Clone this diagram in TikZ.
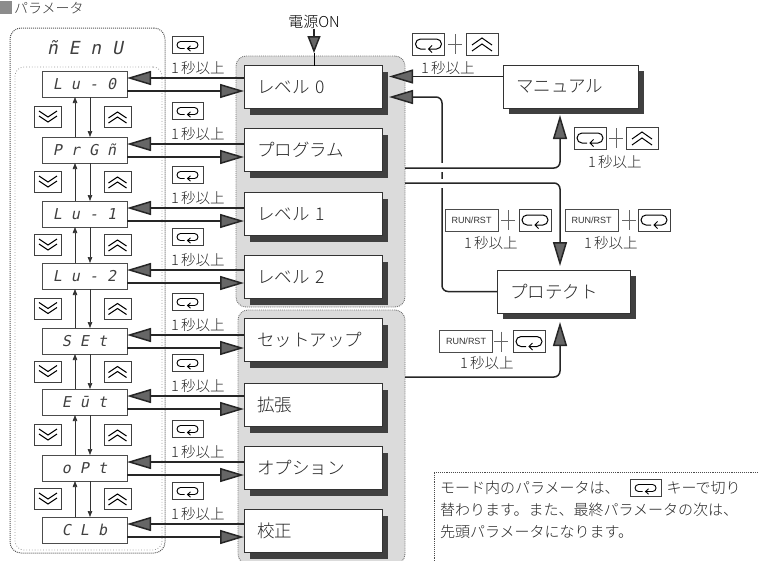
\documentclass[tikz,border=0pt]{standalone}
\usepackage{fontspec}
\IfFontExistsTF{Noto Sans CJK JP Light}{%
  \setmainfont{Noto Sans CJK JP Light}
  \newfontfamily\jp{Noto Sans CJK JP Light}
}{%
  \setmainfont{Noto Sans CJK JP}
  \newfontfamily\jp{Noto Sans CJK JP}
}
\newfontfamily\seg{DejaVu Sans Mono}[FakeSlant=0.2]
\newfontfamily\lsans{Liberation Sans}
\usetikzlibrary{arrows.meta,shadows,calc}
\begin{document}
\begin{tikzpicture}[x=1pt,y=-1pt,
  every node/.style={inner sep=0pt,outer sep=0pt},
  conn/.style={line width=1.5pt,draw=black!85},
  bigtip/.style={-{Triangle[length=24pt,width=14pt,fill=black!60]}},
  smalltip/.style={-{Triangle[length=6pt,width=4.5pt]}},
  thinarr/.style={line width=.7pt,draw=black!80},
  disp/.style={draw=black!70,line width=.8pt,minimum width=85pt,minimum height=26pt,
    font=\seg\fontsize{15}{15}\selectfont,text=black!75},
  mbox/.style={draw=black!80,line width=.8pt,fill=white,minimum height=43pt,
    inner xsep=13pt,align=left,font=\jp\fontsize{17.5}{17.5}\selectfont,text=black!85,
    drop shadow={shadow xshift=6pt,shadow yshift=-6pt,fill=black!75,opacity=1}},
  grp/.style={draw=black!55,densely dotted,line width=.9pt,fill=black!14,rounded corners=10pt},
  keyfr/.style={draw=black!75,line width=.7pt},
  small/.style={font=\jp\fontsize{14.5}{14.5}\selectfont,text=black!85},
  notetext/.style={font=\jp\fontsize{15}{15}\selectfont,text=black!85},
  retkey/.pic={
    \draw[keyfr,fill=white] (-15.5,-8.5) rectangle (15.5,8.5);
    \draw[line width=.9pt] (-3,3.5) -- (-7,3.5) arc[start angle=90,end angle=270,radius=3.5]
      -- (7,-3.5) arc[start angle=-90,end angle=90,radius=3.5] -- (0,3.5)
      (3,0.8) -- (0,3.5) -- (3,6.2);
  },
  retkeyL/.pic={
    \draw[keyfr,fill=white] (-16,-11) rectangle (16,11);
    \draw[line width=1pt] (-3,5) -- (-8,5) arc[start angle=90,end angle=270,radius=5]
      -- (8,-5) arc[start angle=-90,end angle=90,radius=5] -- (0,5)
      (3.5,1.5) -- (0,5) -- (3.5,8.5);
  },
  upkey/.pic={
    \draw[keyfr,fill=white] (-13.5,-10.5) rectangle (13.5,10.5);
    \draw[line width=1pt] (-9,1) -- (0,-5) -- (9,1) (-9,6) -- (0,0) -- (9,6);
  },
  downkey/.pic={
    \draw[keyfr,fill=white] (-13.5,-10.5) rectangle (13.5,10.5);
    \draw[line width=1pt] (-9,-6) -- (0,0) -- (9,-6) (-9,-1) -- (0,5) -- (9,-1);
  },
  upkeyL/.pic={
    \draw[keyfr,fill=white] (-16,-11) rectangle (16,11);
    \draw[line width=1pt] (-10,1) -- (0,-6) -- (10,1) (-10,7) -- (0,0) -- (10,7);
  },
  pluskey/.pic={
    \draw[black!60,line width=.8pt] (-7,0) -- (7,0) (0,-10) -- (0,10);
  },
  runkey/.pic={
    \node[draw=black!70,line width=.6pt,minimum width=53pt,minimum height=22pt,
      font=\lsans\fontsize{9}{9}\selectfont,text=black!80] {RUN/RST};
  },
]
\useasboundingbox (0,0) rectangle (758,560);

% title
\fill[black!45] (0,1) rectangle (12,14);
\node[anchor=west,font=\jp\fontsize{14}{14}\selectfont,text=black!80] (title) at (14,8) {パラメータ};

% menu frame
\node[draw=black!65,densely dotted,line width=1pt,rounded corners=11pt,
  minimum width=155pt,minimum height=525pt] (menu) at (87.5,290.5) {};
\node[draw=black!40,dotted,line width=.8pt,rounded corners=9pt,
  minimum width=147pt,minimum height=483pt] (menuin) at (88.5,308.5) {};
\node[font=\seg\fontsize{18}{18}\selectfont,text=black!75] (mtitle) at (85,48) {ñ E n U};

% groups
\node[grp,minimum width=169pt,minimum height=251pt] (g1) at (320.5,181.5) {};
\node[grp,minimum width=167pt,minimum height=254pt] (g2) at (321.5,437) {};

% rows
\foreach \i/\dc/\mc/\dt/\mt in {0/84/87/{L u - 0}/{レベル 0},
  1/150/150/{P r G ñ}/{プログラム},
  2/214/214/{L u - 1}/{レベル 1},
  3/276/277/{L u - 2}/{レベル 2},
  4/341/340/{S E t}/{セットアップ},
  5/402/405/{E ū t}/{拡張},
  6/468/468/{o P t}/{オプション},
  7/530/531/{C L b}/{校正}}{
  \node[mbox,minimum width=138pt,text width=112pt] (m\i) at (313,\mc) {\mt};
  \node[disp] (d\i) at (84.5,\dc) {\dt};
  \coordinate (u\i) at ($(d\i.east)+(0,-6)$);
  \coordinate (w\i) at ($(d\i.east)+(0,7)$);
  \draw[conn,bigtip] (m\i.west |- u\i) -- (u\i);
  \draw[conn,bigtip] (w\i) -- (m\i.west |- w\i);
  \pic at (187.5,\dc-39) {retkey};
  \node[small,anchor=west] (t\i) at (171,\dc-16) {1\,秒以上};
}

% up/down between displays
\foreach \i in {0,...,6}{
  \pgfmathtruncatemacro\j{\i+1}
  \coordinate (mid\i) at ($(d\i.south)!0.5!(d\j.north)$);
  \pic at ($(mid\i)+(-36.5,0)$) {downkey};
  \pic at ($(mid\i)+(33,0)$) {upkey};
  \draw[thinarr,smalltip] ($(d\j.north)+(-9.5,0)$) -- ($(d\i.south)+(-9.5,0)$);
  \draw[thinarr,smalltip] ($(d\i.south)+(5.5,0)$) -- ($(d\j.north)+(5.5,0)$);
}

% power on
\node[font=\jp\fontsize{15}{15}\selectfont] (pwr) at (314,22) {電源ON};
\coordinate (ptip) at (314,53);
\draw[conn,-{Triangle[length=17pt,width=13pt,fill=black!60]}] (pwr.south) -- (ptip);
\draw[line width=.8pt] (ptip) -- (m0.north -| ptip);

% right boxes
\node[mbox,minimum width=135pt,text width=109pt] (manual) at (570.5,86.5) {マニュアル};
\node[mbox,minimum width=133pt,text width=107pt] (protect) at (563.5,291.5) {プロテクト};

% connectors right side
\coordinate (a1) at ($(manual.west)+(0,-10)$);
\draw[conn,bigtip] (a1) -- ($(m0.east |- a1)+(7,0)$);
\coordinate (v2) at (442,97);
\draw[conn,bigtip,rounded corners=6pt] (protect.west) -| (v2) -- ($(m0.east |- v2)+(7,0)$);
\fill[white] (438,163) rectangle (446,172);
\fill[white] (438,179) rectangle (446,188);
\coordinate (h1) at (560,168);
\draw[conn,bigtip,rounded corners=6pt] (g1.east |- h1) -- (h1) -- ($(manual.south -| h1)+(0,7)$);
\coordinate (h2) at (560,183);
\draw[conn,bigtip,rounded corners=6pt] (g1.east |- h2) -- (h2) -- ($(protect.north -| h2)+(0,-4)$);
\coordinate (h3) at (560,377);
\draw[conn,bigtip,rounded corners=6pt] (g2.east |- h3) -- (h3) -- ($(protect.south -| h3)+(0,9)$);

% combo labels
\pic at (428.5,44) {retkeyL}; \pic at (455,44) {pluskey}; \pic at (482,44) {upkeyL};
\node[small,anchor=west] (la) at (421,68) {1\,秒以上};
\pic at (590,138) {retkeyL}; \pic at (616,138) {pluskey}; \pic at (642,138) {upkeyL};
\node[small,anchor=west] (lb) at (588,162) {1\,秒以上};
\pic at (471.5,220) {runkey}; \pic at (508,220) {pluskey}; \pic at (535,220) {retkeyL};
\node[small,anchor=west] (lc) at (464,243) {1\,秒以上};
\pic at (591.5,220) {runkey}; \pic at (629,220) {pluskey}; \pic at (654,220) {retkeyL};
\node[small,anchor=west] (ld) at (584,243) {1\,秒以上};
\pic at (466,341.5) {runkey}; \pic at (501,341.5) {pluskey}; \pic at (529,341.5) {retkeyL};
\node[small,anchor=west] (le) at (460,363) {1\,秒以上};

% note
\node[draw=black!70,densely dotted,line width=.9pt,minimum width=340pt,minimum height=100pt,
  anchor=north west] (note) at (434,472) {};
\node[notetext,anchor=west] (n1) at (440,488) {モード内のパラメータは、};
\pic at ($(n1.east)+(26,0)$) {retkey};
\node[notetext,anchor=west] (n1b) at ($(n1.east)+(47,0)$) {キーで切り};
\node[notetext,anchor=west] (n2) at (440,510) {替わります。また、最終パラメータの次は、};
\node[notetext,anchor=west] (n3) at (440,532) {先頭パラメータになります。};
\end{tikzpicture}
\end{document}
